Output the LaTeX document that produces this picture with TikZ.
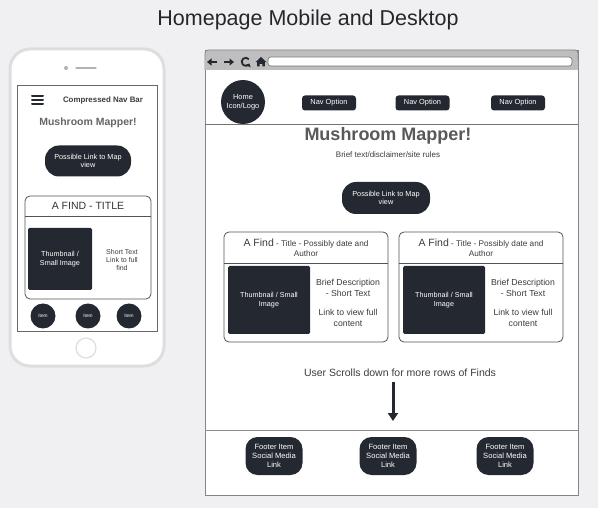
\documentclass[tikz,border=0pt]{standalone}
\usepackage{fontspec}
\setmainfont{Liberation Sans}
\usetikzlibrary{arrows.meta}
\definecolor{bg}{RGB}{240,240,242}
\definecolor{dk}{RGB}{36,40,48}
\definecolor{txt}{RGB}{60,60,60}
\definecolor{phonegray}{RGB}{222,222,224}
\definecolor{bar}{RGB}{190,190,190}
\tikzset{
  fs/.style={font=\fontsize{#1}{1.2\dimexpr #1pt\relax}\selectfont},
  fsb/.style={font=\fontsize{#1}{1.2\dimexpr #1pt\relax}\selectfont\bfseries},
  darkbtn/.style={fill=dk, text=white, rounded corners=3pt, inner sep=0pt, align=center},
  pill/.style={fill=dk, text=white, rounded corners=14pt, inner sep=0pt, align=center},
  card/.style={draw=dk!80, line width=0.8pt, rounded corners=5pt, fill=white},
  thumb/.style={fill=dk, text=white, rounded corners=1.5pt, inner sep=0pt, align=center},
  lbl/.style={text=txt, align=center, inner sep=0pt},
}
\begin{document}
\begin{tikzpicture}[x=1pt,y=-1pt]
\useasboundingbox (0,0) rectangle (598,508);
\fill[bg] (0,0) rectangle (598,508);
\node[lbl, fs=21.5, text=black!85] (title) at (308,20) {Homepage Mobile and Desktop};

% ---------- phone ----------
\draw[phonegray, line width=3pt, fill=white, rounded corners=20pt] (10,49) rectangle (164,366);
\fill[phonegray!80!black] (66,68) circle (2pt);
\draw[phonegray!80!black, line width=1.2pt, line cap=round] (76,68) -- (96,68);
\draw[dk!70, line width=0.8pt, fill=white] (17,85) rectangle (157,331);
\draw[phonegray, line width=1.2pt] (86,348) circle (10pt);
% hamburger
\foreach \yy in {96,100,104} \draw[dk, line width=2pt, line cap=round] (32,\yy) -- (43,\yy);
\node[lbl, fsb=7.9] (pnav) at (103,100) {Compressed Nav Bar};
\node[lbl, fsb=10.5, text=black!60] (pmm) at (88,123) {Mushroom Mapper!};
\node[pill, minimum width=86pt, minimum height=31pt, fs=7.3] (plink) at (88,161) {Possible Link to Map\\view};
\draw[card] (25,196) rectangle (151,299);
\draw[dk!80, line width=0.8pt] (25,216) -- (151,216);
\node[lbl, fs=10.5, text=black!80] (pfind) at (88,206) {A FIND - TITLE};
\node[thumb, minimum width=64pt, minimum height=62pt, fs=7.2] (pthumb) at (60,259) {Thumbnail /\\Small Image};
\node[lbl, fs=7] (pshort) at (122,260) {Short Text\\Link to full\\find};
\foreach \xx/\nm in {43/pi1,88/pi2,129/pi3}
  \node[circle, fill=dk, text=white, minimum size=25pt, inner sep=0pt, fs=4.8] (\nm) at (\xx,316) {Item};

% ---------- browser ----------
\draw[bar!70!black, line width=0.8pt, fill=white] (205,50) rectangle (578,495);
\draw[bar!70!black, line width=0.8pt, fill=bar, rounded corners=3pt] (205,70) -- (205,50) -- (578,50) -- (578,70);
\fill[bar] (205.4,60) rectangle (577.6,70);
\draw[bar!60!black, fill=white, rounded corners=3pt, line width=0.6pt] (268,57) rectangle (572,66);
% nav icons
\coordinate (bk1) at (217,62); \coordinate (bk2) at (207,62);
\draw[dk, line width=1.8pt, -{Triangle[length=4.5pt,width=7pt]}] (bk1) -- (bk2);
\coordinate (fw1) at (224,62); \coordinate (fw2) at (234,62);
\draw[dk, line width=1.8pt, -{Triangle[length=4.5pt,width=7pt]}] (fw1) -- (fw2);
\draw[dk, line width=1.8pt, -{Triangle[length=3pt,width=5.5pt]}] (248.8,59.2) arc[start angle=40, end angle=335, radius=4pt];
\fill[dk] (261,57) -- (266.5,62.2) -- (264.8,62.2) -- (264.8,66.5) -- (262.3,66.5) -- (262.3,63.8) -- (259.7,63.8) -- (259.7,66.5) -- (257.2,66.5) -- (257.2,62.2) -- (255.5,62.2) -- cycle;

\node[circle, fill=dk, text=white, minimum size=44pt, inner sep=0pt, align=center, fs=7.4] (home) at (243,102) {Home\\Icon/Logo};
\foreach \xx/\nm in {329/nav1,422.5/nav2,518/nav3}
  \node[darkbtn, minimum width=54pt, minimum height=15pt, fs=7.4] (\nm) at (\xx,103) {Nav Option};
\draw[black!55, line width=0.8pt] (205,124) -- (578,124);
\node[lbl, fsb=18, text=black!65] (mm) at (388,136) {Mushroom Mapper!};
\node[lbl, fs=8] (brief) at (388,155) {Brief text/disclaimer/site rules};
\node[pill, minimum width=88pt, minimum height=32pt, fs=7.3] (link) at (386,198) {Possible Link to Map\\view};

% cards
\foreach \x/\n in {224/a,399/b}{
  \draw[card] (\x,232) rectangle ++(164,110);
  \draw[dk!80, line width=0.8pt] (\x,263) -- ++(164,0);
  \node[lbl, fs=8.2] (t\n) at ({\x+82},248) {{\fontsize{10.5}{12}\selectfont A Find} - Title - Possibly date and\\Author};
  \node[thumb, minimum width=82pt, minimum height=68pt, fs=7.2] (th\n) at ({\x+45},300) {Thumbnail / Small\\Image};
  \node[lbl, fs=8.7] (bd\n) at ({\x+124},288) {Brief Description\\- Short Text};
  \node[lbl, fs=8.7] (lk\n) at ({\x+124},318) {Link to view full\\content};
}

\node[lbl, fs=10.5] (scroll) at (400,373) {User Scrolls down for more rows of Finds};
\coordinate (ar1) at (393,382);
\coordinate (ar2) at (393,421);
\draw[dk, line width=3pt, -{Triangle[length=8pt,width=10pt]}] (ar1) -- (ar2);
\draw[black!45, line width=0.8pt] (205,430) -- (578,430);
\foreach \xx/\nm in {274/f1,388/f2,505/f3}
  \node[fill=dk, text=white, rounded corners=12pt, minimum width=57pt, minimum height=38pt, inner sep=0pt, align=center, fs=7.6] (\nm) at (\xx,456) {Footer Item\\Social Media\\Link};
\end{tikzpicture}
\end{document}
